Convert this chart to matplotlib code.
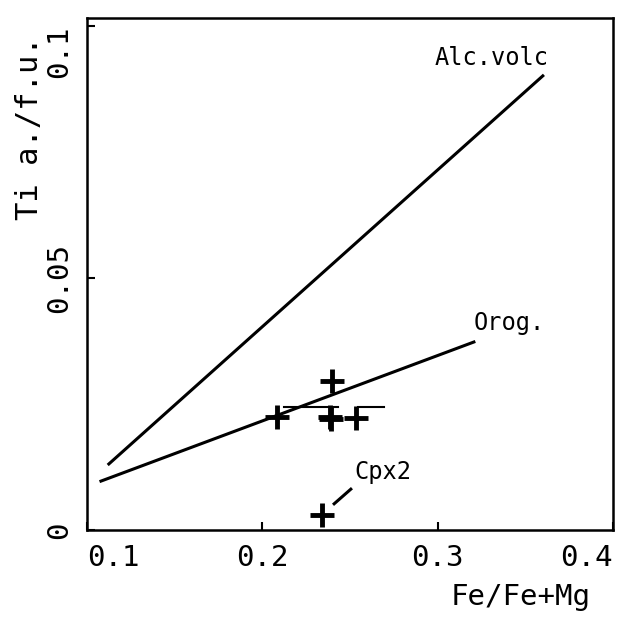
import matplotlib.pyplot as plt

# trend lines (Fe/Fe+Mg, Ti a./f.u.)
alcX = [0.1125, 0.360]
alcY = [0.0131, 0.0901]
orogX = [0.108, 0.3207]
orogY = [0.0097, 0.0373]

# analysed clinopyroxenes
ptX = [0.2085, 0.240, 0.2384, 0.2392, 0.2534, 0.2339]
ptY = [0.0225, 0.0296, 0.0224, 0.0221, 0.0223, 0.0030]

# horizontal range bar through the cluster
barX1 = [0.2125, 0.243]
barX2 = [0.2545, 0.2695]
barY = 0.0245

xticks = [0.1, 0.2, 0.3, 0.4]
xticklabels = ['0.1', '0.2', '0.3', '0.4']
yticks = [0, 0.05, 0.1]
yticklabels = ['0', '0.05', '0.1']

mono = 'DejaVu Sans Mono'

fig = plt.figure(figsize=(6.21, 6.18), dpi=100)
ax = fig.add_axes([0.140, 0.1424, 0.847, 0.8286])

ax.plot(alcX, alcY, color='black', lw=2.2)
ax.plot(orogX, orogY, color='black', lw=2.2)
ax.plot(barX1, [barY, barY], color='black', lw=1.5)
ax.plot(barX2, [barY, barY], color='black', lw=1.5)
ax.plot(ptX, ptY, linestyle='none', marker='+', color='black',
        markersize=17, markeredgewidth=3.5)

# Cpx2 leader
ax.plot([0.241, 0.2505], [0.0052, 0.0081], color='black', lw=2.2)

ax.text(0.331, 0.0937, 'Alc.volc', fontsize=17, family=mono, ha='center', va='center')
ax.text(0.341, 0.0411, 'Orog.', fontsize=17, family=mono, ha='center', va='center')
ax.text(0.269, 0.0115, 'Cpx2', fontsize=17, family=mono, ha='center', va='center')

ax.set_xlim(0.1, 0.4)
ax.set_ylim(0, 0.1016)
ax.set_xticks(xticks)
ax.set_xticklabels(xticklabels, family=mono, fontsize=21)
ax.set_yticks(yticks)
ax.set_yticklabels(yticklabels, family=mono, fontsize=21, rotation=90, va='center')
ax.tick_params(direction='in', length=6, width=1.5)
ax.tick_params(axis='x', pad=10)
ax.tick_params(axis='y', pad=10)

xl = ax.get_xticklabels()
xl[0].set_ha('left')
xl[-1].set_ha('right')
yl = ax.get_yticklabels()
yl[-1].set_va('top')

for s in ax.spines.values():
    s.set_linewidth(1.8)

fig.text(0.839, 0.034, 'Fe/Fe+Mg', fontsize=21, family=mono, ha='center', va='center')
fig.text(0.048, 0.793, 'Ti a./f.u.', fontsize=22, family=mono, ha='center', va='center',
         rotation=90)

fig.savefig('out.png', dpi=100)
